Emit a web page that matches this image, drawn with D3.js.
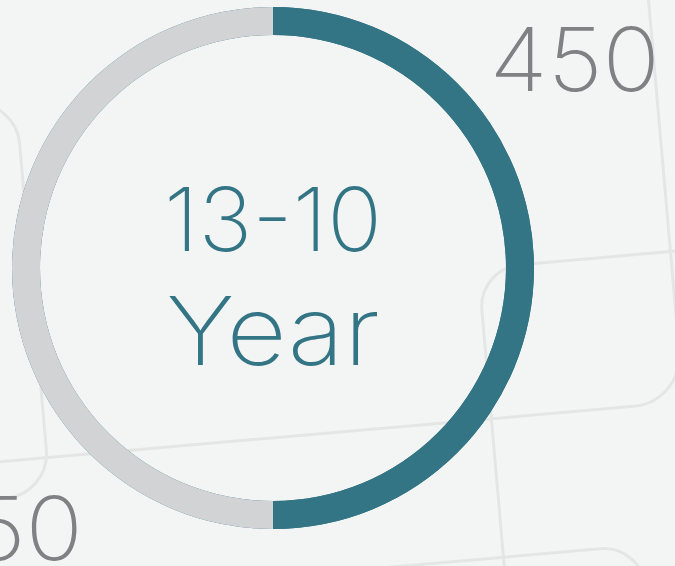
<!DOCTYPE html>
<html>
<head>
<meta charset="utf-8">
<script src="https://cdn.jsdelivr.net/npm/d3@7"></script>
<style>
  html, body { margin: 0; padding: 0; background: #f3f5f4; }
  svg { display: block; }
  text { font-family: "Helvetica Neue", "Inter", "Roboto", sans-serif; font-weight: 250; }
</style>
</head>
<body>
<div id="chart"></div>
<script>
// ring data
var segmentNames = ["13-10 Year", "Other"];
var segmentValues = [50, 50];
var segmentColors = ["#337585", "#d1d3d5"];

// centre label lines and outer value labels
var centerLines = ["13-10", "Year"];
var valueLabels = ["450", "50"];

var width = 675,
    height = 566;

var svg = d3.select("#chart").append("svg")
    .attr("width", width)
    .attr("height", height);

svg.append("rect")
    .attr("width", width)
    .attr("height", height)
    .attr("fill", "#f3f5f4");

// faint tile pattern in the back, slightly tilted
var bg = svg.append("g")
    .attr("transform", "rotate(-5)")
    .attr("fill", "none")
    .attr("stroke", "#e4e6e6")
    .attr("stroke-width", 3);

function tile(p) {
    // p = [x0, y0, corner x, corner y, x1, y1, r]; one rounded corner between two straight runs
    var path = d3.path();
    path.moveTo(p[0], p[1]);
    path.arcTo(p[2], p[3], p[4], p[5], p[6]);
    path.lineTo(p[4], p[5]);
    return path.toString();
}
var tiles = [
    [-100, 100, 7, 100, 7, 300, 45],
    [7, 300, 7, 497, -100, 497, 45],
    [-100, 460, 646, 460, 646, -100, 50],
    [453, 800, 453, 309, 800, 309, 42],
    [-100, 599, 592, 599, 592, 800, 42]
];
bg.selectAll("path")
    .data(tiles)
    .enter().append("path")
    .attr("d", tile);

var cx = 273,
    cy = 268,
    outerR = 261,
    innerR = 233;

var g = svg.append("g")
    .attr("transform", "translate(" + cx + "," + cy + ")");

var arc = d3.arc()
    .innerRadius(innerR)
    .outerRadius(outerR);

var pie = d3.pie()
    .sort(null)
    .value(function(d) { return d; });

// a full teal ring underneath gives the thin edge seen round the grey part
g.append("path")
    .attr("d", arc({startAngle: 0, endAngle: 2 * Math.PI}))
    .attr("fill", segmentColors[0]);

g.selectAll("path.seg")
    .data(pie(segmentValues))
    .enter().append("path")
    .attr("class", "seg")
    .attr("d", arc)
    .attr("fill", function(d, i) { return segmentColors[i]; })
    .append("title")
    .text(function(d, i) { return segmentNames[i] + ": " + d.value; });

// centre text, stretched a little since the fallback font is narrower
var centerSizes = [88, 95];
var centerBase = [251, 365];
var centerStretch = [1.03, 1.1];
svg.selectAll("text.center")
    .data(centerLines)
    .enter().append("text")
    .attr("class", "center")
    .attr("transform", function(d, i) {
        return "translate(" + cx + "," + centerBase[i] + ") scale(" + centerStretch[i] + ",1)";
    })
    .attr("text-anchor", "middle")
    .attr("fill", "#337585")
    .style("font-size", function(d, i) { return centerSizes[i] + "px"; })
    .text(function(d) { return d; });

// value labels at the corners
var labelPos = [[660, 91], [83, 560]];
svg.selectAll("text.value")
    .data(valueLabels)
    .enter().append("text")
    .attr("class", "value")
    .attr("transform", function(d, i) {
        return "translate(" + labelPos[i][0] + "," + labelPos[i][1] + ") scale(1.08,1)";
    })
    .attr("text-anchor", "end")
    .attr("fill", "#808182")
    .style("font-size", "88px")
    .text(function(d) { return d; });
</script>
</body>
</html>
